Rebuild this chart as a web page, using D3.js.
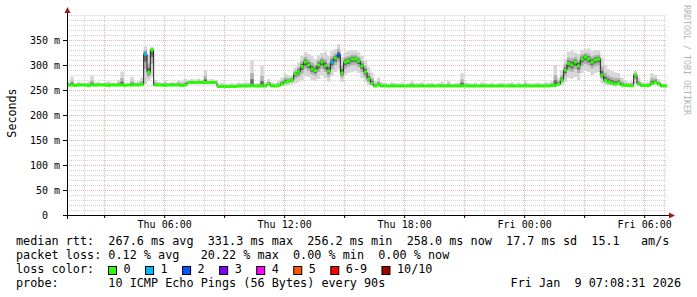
<!DOCTYPE html>
<html>
<head>
<meta charset="utf-8">
<script src="https://cdn.jsdelivr.net/npm/d3@7"></script>
<style>
body { margin: 0; background: #fff; }
svg text { font-family: "DejaVu Sans Mono", monospace; white-space: pre; }
</style>
</head>
<body>
<div id="viz"></div>
<script>
// smokeping graph: Thu 01:08:31 .. Fri 07:08:31, one sample every 10 minutes
const startTime = new Date(2026, 0, 8, 1, 8, 31);
const endTime = new Date(2026, 0, 9, 7, 8, 31);
const stepMinutes = 10;

// median rtt (ms)
const median = [
    260,260,259,260,260,260,259,260,260,260,
    260,260,259,260,260,260,260,259,260,260,
    260,260,261,322,285,330,260,260,260,259,
    260,260,260,260,259,260,265,265,265,265,
    265,265,265,265,265,257,257,257,257,257,
    257,258,258,258,258,259,258,258,258,258,
    262,258,258,259,262,266,268,270,282,286,
    297,306,300,292,289,300,306,298,288,306,
    314,320,284,306,308,312,312,308,298,286,
    272,263,258,260,258,258,258,258,258,258,
    258,258,258,258,258,258,258,258,258,258,
    258,258,258,258,258,258,258,258,258,258,
    258,258,258,258,258,258,258,258,258,258,
    258,258,258,258,258,258,258,258,258,258,
    258,258,258,258,258,259,259,262,270,290,
    303,300,306,298,312,316,312,306,310,312,
    280,269,266,264,262,264,260,259,259,259,
    280,262,259,259,259,263,266,262,258,258
];
// slowest ping per sample (ms)
const smokeHigh = [
    265,277,264,266,265,264,267,278,265,266,
    264,266,268,265,264,270,287,265,264,276,
    266,268,275,337,320,336,270,266,265,270,
    264,266,265,270,268,272,270,272,271,273,
    270,290,271,272,270,263,265,263,262,264,
    263,265,264,266,265,309,263,264,298,266,
    272,266,264,268,275,283,278,280,295,305,
    318,326,322,318,312,320,324,326,318,328,
    332,342,315,326,328,330,330,326,318,310,
    296,285,268,275,266,264,262,266,264,263,
    265,262,264,268,263,264,266,262,264,265,
    262,264,266,263,268,262,264,265,284,266,
    264,263,265,262,266,264,263,265,262,264,
    265,263,264,266,262,265,263,268,264,263,
    264,265,263,266,265,268,300,275,290,312,
    326,328,325,322,330,332,333,328,330,330,
    315,300,292,288,285,284,275,268,266,268,
    288,275,266,264,266,284,280,272,264,263
];
// fastest ping per sample (ms)
const smokeLow = [
    257,258,257,257,258,257,257,258,257,258,
    258,257,257,258,257,257,258,257,258,257,
    258,257,258,262,268,275,257,258,257,257,
    258,257,258,257,257,258,262,263,262,263,
    263,262,263,262,263,255,255,256,255,255,
    255,256,256,255,256,257,256,256,255,256,
    259,256,256,257,258,259,260,261,264,266,
    270,278,276,270,268,272,280,274,266,278,
    286,292,266,280,284,286,288,284,274,266,
    260,257,256,257,256,256,256,256,256,256,
    256,256,257,256,256,256,257,256,256,256,
    256,256,257,256,256,256,257,256,256,256,
    256,256,257,256,256,256,257,256,256,256,
    256,256,257,256,256,256,257,256,256,256,
    256,256,256,256,256,257,257,258,260,266,
    274,272,276,270,284,288,286,280,284,286,
    264,260,259,258,257,258,257,257,257,257,
    262,258,257,257,257,259,260,258,256,256
];
// [sample index, lost pings]
const lossSteps = [[23, 1], [79, 1], [81, 2]];

const yTicks = [0, 50, 100, 150, 200, 250, 300, 350];
const lossLabels = ["0", "1", "2", "3", "4", "5", "6-9", "10/10"];
const lossColors = ["#26ff00", "#00b8ff", "#0059ff", "#7e00ff", "#ff00ff", "#ff5500", "#ff0000", "#a10000"];

const statsLine = "median rtt:  267.6 ms avg  331.3 ms max  256.2 ms min  258.0 ms now  17.7 ms sd  15.1   am/s";
const lossLine = "packet loss: 0.12 % avg   20.22 % max  0.00 % min  0.00 % now";
const probeLine = "probe:       10 ICMP Echo Pings (56 Bytes) every 90s";
const stampText = "Fri Jan  9 07:08:31 2026";

const svg = d3.select("#viz")
    .append("svg")
    .attr("width", 697)
    .attr("height", 297);

const x = d3.scaleTime().domain([startTime, endTime]).range([67, 667]);
const y = d3.scaleLinear().domain([0, 400]).range([215, 15]);

const times = median.map((d, i) => d3.timeMinute.offset(startTime, i * stepMinutes));
const tEnd = i => i + 1 < times.length ? times[i + 1] : endTime;

// grid
const grid = svg.append("g");
const majorHours = d3.timeHour.every(3).range(startTime, endTime);
const minorHours = d3.timeHour.range(startTime, endTime).filter(d => d.getHours() % 3 !== 0);
const minorVals = d3.range(10, 401, 10).filter(v => v % 50 !== 0 || v > 350);
const majorVals = yTicks.filter(v => v > 0);

grid.selectAll(".vmin").data(minorHours).enter().append("line")
    .attr("x1", d => Math.round(x(d)) + 0.5).attr("x2", d => Math.round(x(d)) + 0.5)
    .attr("y1", y(0)).attr("y2", y(400))
    .style("stroke", "#d4d4d4").style("stroke-dasharray", "1,1");
grid.selectAll(".hmin").data(minorVals).enter().append("line")
    .attr("x1", x(startTime)).attr("x2", x(endTime))
    .attr("y1", d => Math.round(y(d)) + 0.5).attr("y2", d => Math.round(y(d)) + 0.5)
    .style("stroke", "#d4d4d4").style("stroke-dasharray", "1,1");
grid.selectAll(".vmaj").data(majorHours).enter().append("line")
    .attr("x1", d => Math.round(x(d)) + 0.5).attr("x2", d => Math.round(x(d)) + 0.5)
    .attr("y1", y(0)).attr("y2", y(400))
    .style("stroke", "#eab0b0").style("stroke-dasharray", "1,1");
grid.selectAll(".hmaj").data(majorVals).enter().append("line")
    .attr("x1", x(startTime)).attr("x2", x(endTime))
    .attr("y1", d => Math.round(y(d)) + 0.5).attr("y2", d => Math.round(y(d)) + 0.5)
    .style("stroke", "#eab0b0").style("stroke-dasharray", "1,1");

// smoke, lighter towards the slowest / fastest ping
const smoke = svg.append("g");
const bands = [
    { color: "#d6d6d6", hi: i => smokeHigh[i], lo: i => smokeLow[i] },
    { color: "#b0b0b0", hi: i => (median[i] + smokeHigh[i]) / 2, lo: i => (median[i] + smokeLow[i]) / 2 },
    { color: "#6a6a6a", hi: i => median[i] + (smokeHigh[i] - median[i]) / 4, lo: i => median[i] - (median[i] - smokeLow[i]) / 4 }
];
bands.forEach(b => {
    smoke.selectAll(null).data(median).enter().append("rect")
        .attr("x", (d, i) => x(times[i]))
        .attr("width", (d, i) => x(tEnd(i)) - x(times[i]))
        .attr("y", (d, i) => y(b.hi(i)))
        .attr("height", (d, i) => y(b.lo(i)) - y(b.hi(i)))
        .style("fill", b.color);
});

// median line and loss coloured band
const medPoints = median.map((d, i) => [times[i], d]).concat([[endTime, median[median.length - 1]]]);
svg.append("path")
    .datum(medPoints)
    .attr("d", d3.line().x(d => x(d[0])).y(d => y(d[1])).curve(d3.curveStepAfter))
    .style("fill", "none")
    .style("stroke", "#202020")
    .style("stroke-width", 1);

const lossOf = i => { const f = lossSteps.find(s => s[0] === i); return f ? f[1] : 0; };
svg.append("g").selectAll("rect").data(median).enter().append("rect")
    .attr("x", (d, i) => x(times[i]))
    .attr("width", (d, i) => x(tEnd(i)) - x(times[i]))
    .attr("y", d => y(d) - 1.5)
    .attr("height", 3)
    .style("fill", (d, i) => lossColors[lossOf(i)]);

// axes
const yAxis = svg.append("g")
    .attr("transform", "translate(67,0)")
    .call(d3.axisLeft(y).tickValues(yTicks).tickSize(4).tickPadding(3)
        .tickFormat(d => d === 0 ? "0  " : d + " m"));
const xAxis = svg.append("g")
    .attr("transform", "translate(0,215)")
    .call(d3.axisBottom(x).tickValues(majorHours).tickSize(3).tickPadding(3)
        .tickFormat(d => d.getHours() % 6 === 0 ? d3.timeFormat("%a %H:%M")(d) : ""));
[yAxis, xAxis].forEach(a => {
    a.select(".domain").remove();
    a.selectAll("text").style("font-size", "10px").style("fill", "#000")
        .attr("font-family", null);
    a.selectAll("line").style("stroke", "#000");
});

svg.append("line").attr("x1", 63).attr("x2", 670).attr("y1", 215.5).attr("y2", 215.5)
    .style("stroke", "#000");
svg.append("line").attr("x1", 67.5).attr("x2", 67.5).attr("y1", 219).attr("y2", 12)
    .style("stroke", "#000");
svg.append("path").attr("d", "M669,212.5 L675,215.5 L669,218.5 Z").style("fill", "#9b1c1c");
svg.append("path").attr("d", "M64.5,13 L67.5,7 L70.5,13 Z").style("fill", "#9b1c1c");

// labels
svg.append("text")
    .attr("transform", "translate(15.5,113) rotate(-90)")
    .attr("text-anchor", "middle")
    .style("font-size", "11.7px")
    .text("Seconds");

svg.append("text")
    .attr("transform", "translate(684,5) rotate(90)")
    .style("font-size", "8.3px")
    .style("fill", "#b4b4b4")
    .text("RRDTOOL / TOBI OETIKER");

// legend
const legend = svg.append("g").style("font-size", "11.8px");
legend.append("text").attr("x", 16).attr("y", 244.5).text(statsLine);
legend.append("text").attr("x", 16).attr("y", 258.5).text(lossLine);
legend.append("text").attr("x", 16).attr("y", 272.5).text("loss color:");
legend.append("text").attr("x", 16).attr("y", 286.5).text(probeLine);
legend.append("text").attr("x", 681).attr("y", 286.5).attr("text-anchor", "end").text(stampText);

let bx = 108.5;
lossLabels.forEach((lab, i) => {
    legend.append("rect")
        .attr("x", bx).attr("y", 266.5).attr("width", 8).attr("height", 8)
        .style("fill", lossColors[i]).style("stroke", "#000");
    legend.append("text").attr("x", bx + 15).attr("y", 272.5).text(lab);
    bx += 15 + lab.length * 7.05 + 15;
});
</script>
</body>
</html>
